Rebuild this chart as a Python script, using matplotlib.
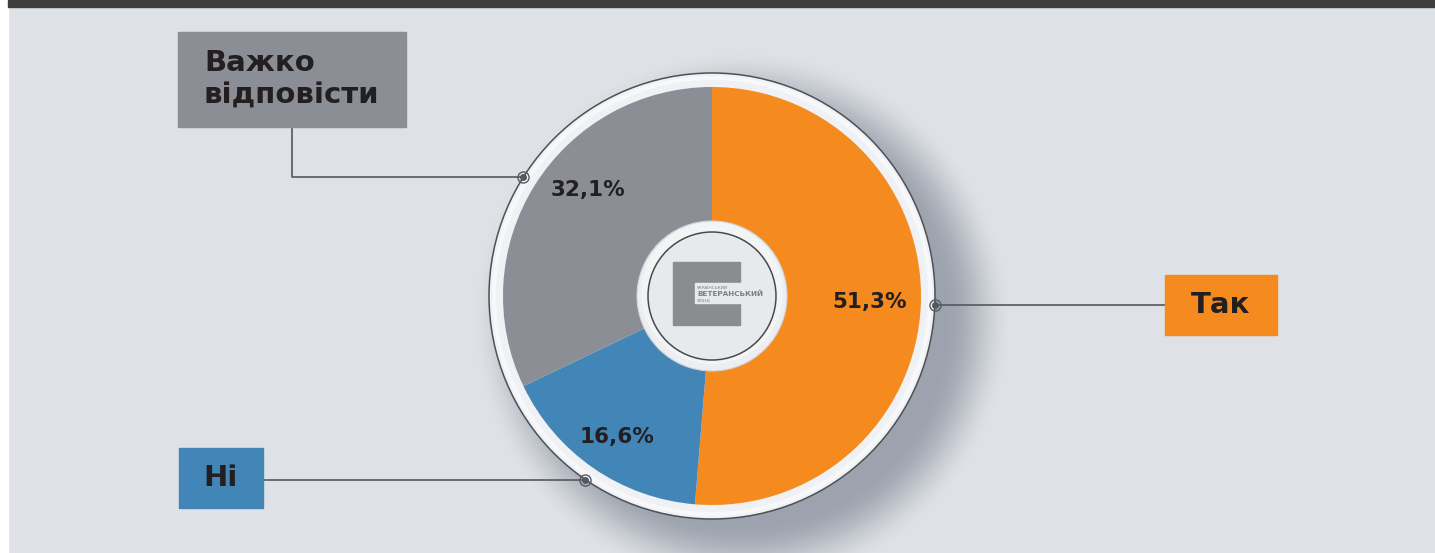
import numpy as np
import matplotlib.pyplot as plt
from matplotlib.patches import Circle, Rectangle

# data
labels = ["Так", "Ні", "Важко\nвідповісти"]
values = [51.3, 16.6, 32.1]
pct_text = ["51,3%", "16,6%", "32,1%"]
colors = ["#f58a1f", "#4286b8", "#8b8f95"]

W, H = 1435, 553
BG = "#dee1e5"
LINE = "#55595e"
FONT = "DejaVu Sans"

def Y(y):
    # pixel row (from top) -> data y
    return H - y

fig = plt.figure(figsize=(W / 100, H / 100), dpi=100, facecolor=BG)
ax = fig.add_axes([0, 0, 1, 1])

# frame bits: white strip on the left, dark bar on top
ax.add_patch(Rectangle((0, 0), 8, H, color="white", zorder=0))
ax.add_patch(Rectangle((8, Y(7)), W - 8, 7, color="#3e3e3e", zorder=0))

cx, cy = 712, Y(296)
r_pie, r_ring = 209, 223

# soft shadow to the lower right of the ring (finite falloff)
xx, yy = np.meshgrid(np.arange(W) + 0.5, np.arange(H) + 0.5)
d = np.hypot(xx - (cx + 30), yy - (cy - 24))
t = np.clip((d - 205) / 65, 0, 1)
alpha = 0.6 * (1 - t * t * (3 - 2 * t))
shadow = np.zeros((H, W, 4))
shadow[..., :3] = np.array([0x72, 0x7b, 0x8a]) / 255
shadow[..., 3] = alpha
ax.imshow(shadow, extent=(0, W, 0, H), origin="lower", zorder=1, interpolation="bilinear")

# outer ring
ax.add_patch(Circle((cx, cy), r_ring, facecolor="#eff1f4", edgecolor="#4d5054", lw=1.1, zorder=2))
ax.add_patch(Circle((cx, cy), r_ring - 5, facecolor="none", edgecolor="#f7f8fa", lw=3, zorder=2))

wedges, _ = ax.pie(values, colors=colors, startangle=90, counterclock=False,
                   center=(cx, cy), radius=r_pie, frame=True,
                   wedgeprops=dict(linewidth=0))
for w in wedges:
    w.set_zorder(3)
ax.set_xlim(0, W)
ax.set_ylim(0, H)
ax.set_aspect("equal")
ax.axis("off")

# centre disc with logo
ax.add_patch(Circle((cx, cy), 75, facecolor="#eceef1", edgecolor="#cfd2d6", lw=0.8, zorder=4))
ax.add_patch(Circle((cx, cy + 3), 71, facecolor="#f3f4f5", edgecolor="none", zorder=4))
ax.add_patch(Circle((cx, cy), 64, facecolor="#e8e9eb", edgecolor="#4a4a4a", lw=1.1, zorder=5))
ax.add_patch(Rectangle((673, Y(325)), 67, 63, color="#8b8c8f", zorder=6))
ax.add_patch(Rectangle((695, Y(303)), 46, 20, color="#e8e9eb", zorder=6))
ax.text(697, Y(288), "УКРАЇНСЬКИЙ", fontsize=3.2, color="#7d7e81", ha="left", va="center", zorder=7)
ax.text(697, Y(294), "ВЕТЕРАНСЬКИЙ", fontsize=5.2, color="#7d7e81", fontweight="bold",
        ha="left", va="center", zorder=7)
ax.text(697, Y(300), "ФОНД", fontsize=3.2, color="#7d7e81", ha="left", va="center", zorder=7)

# percentage labels
pct_pos = [(870, 302), (617, 437), (588, 190)]
for (px, py), t in zip(pct_pos, pct_text):
    ax.text(px, Y(py), t, fontsize=15.5, fontweight="bold", family=FONT, color="#231f20",
            ha="center", va="center", zorder=8)

# callout markers at the middle of every slice
mids = []
start = 90.0
for v in values:
    ang = start - v / sum(values) * 360 / 2
    mids.append(ang)
    start -= v / sum(values) * 360
mk = [(cx + r_ring * np.cos(np.radians(a)), cy + r_ring * np.sin(np.radians(a))) for a in mids]

# label boxes: (x0, y0, x1, y1) in pixels from top-left
boxes = [(1165, 275, 1277, 335), (179, 448, 263, 508), (178, 32, 406, 127)]

# Так
ax.plot([mk[0][0], boxes[0][0]], [mk[0][1], mk[0][1]], color=LINE, lw=1.2, zorder=2.5)
# Ні
ax.plot([mk[1][0], boxes[1][2]], [mk[1][1], mk[1][1]], color=LINE, lw=1.2, zorder=2.5)
# Важко відповісти
ax.plot([mk[2][0], 292, 292], [mk[2][1], mk[2][1], Y(boxes[2][3])], color=LINE, lw=1.2, zorder=2.5)

for x, y in mk:
    ax.plot(x, y, "o", ms=8, mfc="none", mec=LINE, mew=1.0, zorder=9)
    ax.plot(x, y, "o", ms=4, color=LINE, zorder=9)

for (x0, y0, x1, y1), c, lab in zip(boxes, colors, labels):
    ax.add_patch(Rectangle((x0, Y(y1)), x1 - x0, y1 - y0, color=c, zorder=8))
    if "\n" in lab:
        ax.text(x0 + 26, Y((y0 + y1) / 2), lab, fontsize=21, fontweight="bold", family=FONT,
                color="#231f20", ha="left", va="center", linespacing=1.22, zorder=9)
    else:
        ax.text((x0 + x1) / 2, Y((y0 + y1) / 2), lab, fontsize=21, fontweight="bold", family=FONT,
                color="#231f20", ha="center", va="center", zorder=9)

fig.savefig("out.png", dpi=100, facecolor=BG)
